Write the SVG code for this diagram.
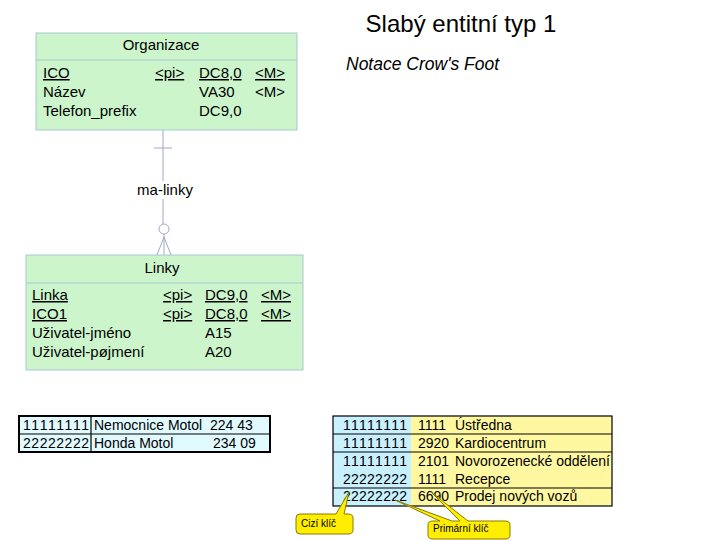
<svg xmlns="http://www.w3.org/2000/svg" width="720" height="540" viewBox="0 0 720 540">
<style>
text{font-family:"Liberation Sans",Arial,sans-serif;fill:#000}
.ent{fill:#ccf5cc;stroke:#a8c8d0;stroke-width:1}
.hl{stroke:#a8c8d0;stroke-width:1}
.t{font-size:15px}
.u{text-decoration:underline}
.con{stroke:#a0a8cc;stroke-width:1;fill:none}
.c{font-size:14px}
.grid{stroke:#000;stroke-width:1.2}
.call{fill:#ffee00;stroke:#8a7a00;stroke-width:1}
.ctext{font-size:10px}
</style>
<rect width="720" height="540" fill="#fff"/>
<text x="461" y="32" font-size="24" text-anchor="middle">Slabý entitní typ 1</text>
<text x="346" y="70" font-size="17.5" font-style="italic">Notace Crow's Foot</text>

<g id="connectors">
<line class="con" x1="163" y1="130" x2="163" y2="224"/>
<line class="con" x1="154" y1="148" x2="172" y2="148"/>
<circle class="con" cx="164" cy="229" r="5"/>
<line class="con" x1="164" y1="234" x2="164" y2="255"/>
<line class="con" x1="164" y1="237" x2="157" y2="255"/>
<line class="con" x1="164" y1="237" x2="171" y2="255"/>
<rect x="134" y="181" width="62" height="18" fill="#fff"/>
<text x="165" y="195" font-size="15" text-anchor="middle">ma-linky</text>
</g>

<g id="organizace">
<rect class="ent" x="36" y="33" width="261" height="97"/>
<line class="hl" x1="36" y1="60" x2="297" y2="60"/>
<text class="t" x="161" y="50" text-anchor="middle">Organizace</text>
<text class="t u" x="43" y="78">ICO</text>
<text class="t u" x="155" y="78">&lt;pi&gt;</text>
<text class="t u" x="199" y="78">DC8,0</text>
<text class="t u" x="255" y="78">&lt;M&gt;</text>
<text class="t" x="43" y="97">Název</text>
<text class="t" x="199" y="97">VA30</text>
<text class="t" x="255" y="97">&lt;M&gt;</text>
<text class="t" x="43" y="116">Telefon_prefix</text>
<text class="t" x="199" y="116">DC9,0</text>
</g>

<g id="linky">
<rect class="ent" x="26" y="255" width="277" height="115"/>
<line class="hl" x1="26" y1="283" x2="303" y2="283"/>
<text class="t" x="162" y="273" text-anchor="middle">Linky</text>
<text class="t u" x="32" y="300">Linka</text>
<text class="t u" x="163" y="300">&lt;pi&gt;</text>
<text class="t u" x="205" y="300">DC9,0</text>
<text class="t u" x="261" y="300">&lt;M&gt;</text>
<text class="t u" x="32" y="319">ICO1</text>
<text class="t u" x="163" y="319">&lt;pi&gt;</text>
<text class="t u" x="205" y="319">DC8,0</text>
<text class="t u" x="261" y="319">&lt;M&gt;</text>
<text class="t" x="32" y="338">Uživatel-jméno</text>
<text class="t" x="205" y="338">A15</text>
<text class="t" x="32" y="357">Uživatel-pøjmení</text>
<text class="t" x="205" y="357">A20</text>
</g>

<g id="table-organizace">
<rect x="19" y="416" width="251" height="36" fill="#e0faff"/>
<line class="grid" x1="19" y1="434" x2="270" y2="434"/>
<line class="grid" x1="91" y1="416" x2="91" y2="452"/>
<rect x="19" y="416" width="251" height="36" fill="none" stroke="#000" stroke-width="2"/>
<text class="c" x="23" y="430" textLength="66">11111111</text>
<text class="c" x="94" y="430">Nemocnice Motol</text>
<text class="c" x="210" y="430">224 43</text>
<text class="c" x="23" y="448" textLength="66">22222222</text>
<text class="c" x="94" y="448">Honda Motol</text>
<text class="c" x="213" y="448">234 09</text>
</g>

<g id="table-linky">
<rect x="333" y="416" width="78" height="90" fill="#c8f0ff"/>
<rect x="411" y="416" width="201" height="90" fill="#fff8a0"/>
<line class="grid" x1="333" y1="434" x2="612" y2="434"/>
<line class="grid" x1="333" y1="452" x2="612" y2="452"/>
<line class="grid" x1="333" y1="488" x2="612" y2="488"/>
<rect x="333" y="416" width="279" height="90" fill="none" stroke="#000" stroke-width="1.2"/>
<text class="c" x="343" y="430" textLength="64">11111111</text>
<text class="c" x="418" y="430">1111</text>
<text class="c" x="455" y="430">Ústředna</text>
<text class="c" x="343" y="448" textLength="64">11111111</text>
<text class="c" x="418" y="448">2920</text>
<text class="c" x="455" y="448">Kardiocentrum</text>
<text class="c" x="343" y="466" textLength="64">11111111</text>
<text class="c" x="418" y="466">2101</text>
<text class="c" x="455" y="466">Novorozenecké oddělení</text>
<text class="c" x="343" y="484" textLength="64">22222222</text>
<text class="c" x="418" y="484">1111</text>
<text class="c" x="455" y="484">Recepce</text>
<text class="c" x="343" y="501" textLength="64">22222222</text>
<text class="c" x="418" y="501">6690</text>
<text class="c" x="455" y="501">Prodej nových vozů</text>
</g>

<g id="callout-cizi">
<path class="call" d="M300 514 L336 514 L349 492 L344 514 L348 514 Q353 514 353 518 L353 530 Q353 534 348 534 L300 534 Q296 534 296 530 L296 518 Q296 514 300 514 Z"/>
<text class="ctext" x="301" y="527">Cizí klíč</text>
</g>

<g id="callout-primarni">
<path class="call" d="M433 521 L440 521 L395 500 L452 521 L460 521 L431 492 L468 521 L505 521 Q510 521 510 525 L510 535 Q510 539 505 539 L433 539 Q428 539 428 535 L428 525 Q428 521 433 521 Z"/>
<text class="ctext" x="433" y="532">Primární klíč</text>
</g>
</svg>
